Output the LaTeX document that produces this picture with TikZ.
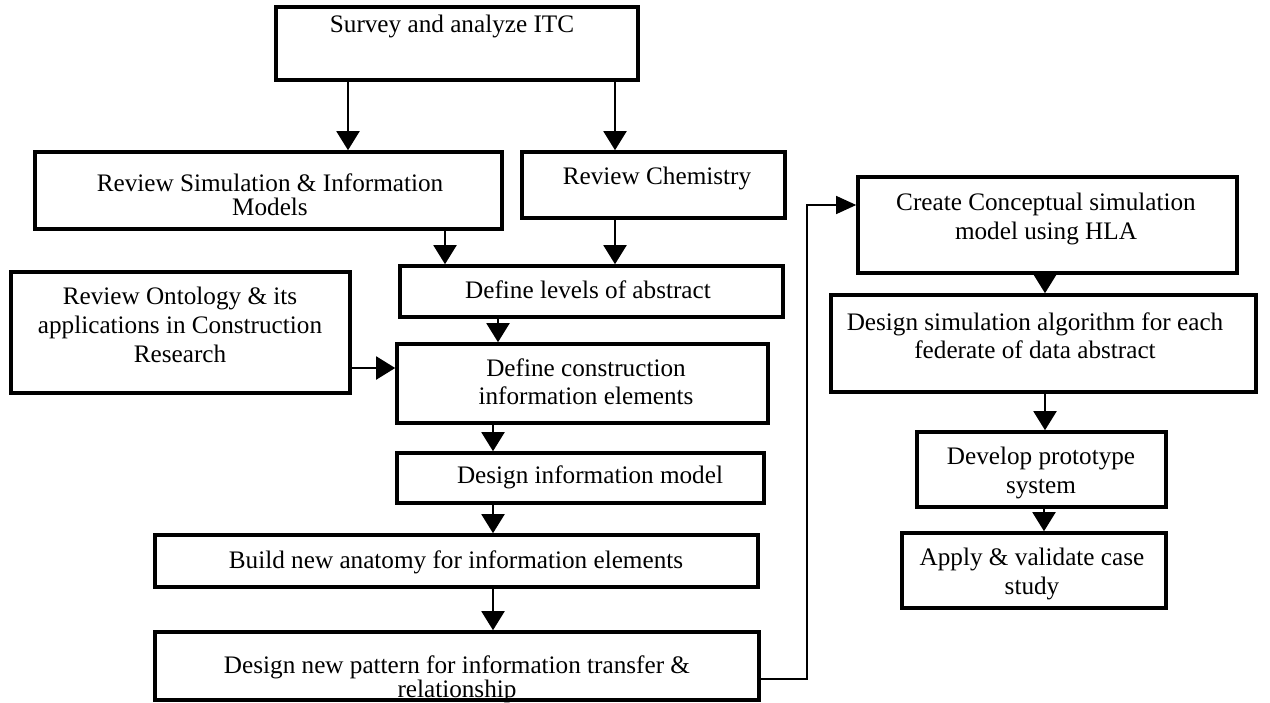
\documentclass[tikz,border=0pt]{standalone}
\usepackage{fontspec}
\setmainfont{Liberation Serif}
\usetikzlibrary{arrows.meta,fit}
\tikzset{
  box/.style={draw, line width=1.8pt, inner sep=0pt, rectangle},
  lbl/.style={inner sep=0pt, align=center, anchor=north,
    font=\fontsize{12.6pt}{14.4pt}\selectfont},
  arr/.style={line width=1pt, -{Triangle[length=9.5pt,width=11.5pt]}},
  thinarr/.style={line width=0.6pt, -{Triangle[length=10pt,width=9pt]}},
}
\begin{document}
\begin{tikzpicture}[x=0.5pt, y=-0.5pt]
\useasboundingbox (0,0) rectangle (1270,702);

% boxes, given by their corners
\node[box, fit={(276,7) (638,80)}]    (s)  {};
\node[box, fit={(35,152) (502,229)}]  (rs) {};
\node[box, fit={(522,152) (785,218)}] (rc) {};
\node[box, fit={(400,266) (783,317)}] (dl) {};
\node[box, fit={(11,272) (350,393)}]  (ro) {};
\node[box, fit={(397,344) (768,423)}] (dc) {};
\node[box, fit={(397,453) (764,503)}] (dm) {};
\node[box, fit={(155,535) (758,587)}] (ba) {};
\node[box, fit={(155,632) (759,700)}] (dp) {};
\node[box, fit={(858,177) (1237,273)}] (cc) {};
\node[box, fit={(831,295) (1256,392)}] (ds) {};
\node[box, fit={(917,432) (1166,507)}] (dv) {};
\node[box, fit={(902,533) (1166,608)}] (av) {};

% box texts
\node[lbl] (s-t)  at (452,15)  {Survey and analyze ITC};
\node[lbl] (rs-t) at (270,173) {Review Simulation \& Information\\[-2.4pt]Models};
\node[lbl] (rc-t) at (657,167) {Review Chemistry};
\node[lbl] (dl-t) at (588,280) {Define levels of abstract};
\node[lbl] (ro-t) at (180,287) {Review Ontology \& its\\applications in Construction\\Research};
\node[lbl] (dc-t) at (586,358) {Define construction\\information elements};
\node[lbl] (dm-t) at (590,465) {Design information model};
\node[lbl] (ba-t) at (456,550) {Build new anatomy for information elements};
\node[lbl] (dp-t) at (457,655) {Design new pattern for information transfer \&\\[-2.4pt]relationship};
\node[lbl] (cc-t) at (1046,193) {Create Conceptual simulation\\model using HLA};
\node[lbl] (ds-t) at (1035,312) {Design simulation algorithm for each\\federate of data abstract};
\node[lbl] (dv-t) at (1041,447) {Develop prototype\\system};
\node[lbl] (av-t) at (1032,548) {Apply \& validate case\\study};

% connectors
\draw[arr] (s.south -| 348,0)  -- (rs.north -| 348,0);
\draw[arr] (s.south -| 615,0)  -- (rc.north -| 615,0);
\draw[arr] (rs.south -| 445,0) -- (dl.north -| 445,0);
\draw[arr] (rc.south -| 615,0) -- (dl.north -| 615,0);
\draw[arr] (dl.south -| 498,0) -- (dc.north -| 498,0);
\draw[arr] (ro.east |- 0,368)  -- (dc.west |- 0,368);
\draw[arr] (dc.south -| 493,0) -- (dm.north -| 493,0);
\draw[arr] (dm.south -| 493,0) -- (ba.north -| 493,0);
\draw[arr] (ba.south -| 493,0) -- (dp.north -| 493,0);
\coordinate (bend) at (807,205);
\draw[thinarr] (dp.east |- 0,679) -| (bend) -- (cc.west |- bend);
\draw[arr] (cc.south -| 1045,0) -- (ds.north -| 1045,0);
\draw[arr] (ds.south -| 1045,0) -- (dv.north -| 1045,0);
\draw[arr] (dv.south -| 1044,0) -- (av.north -| 1044,0);
\end{tikzpicture}
\end{document}
